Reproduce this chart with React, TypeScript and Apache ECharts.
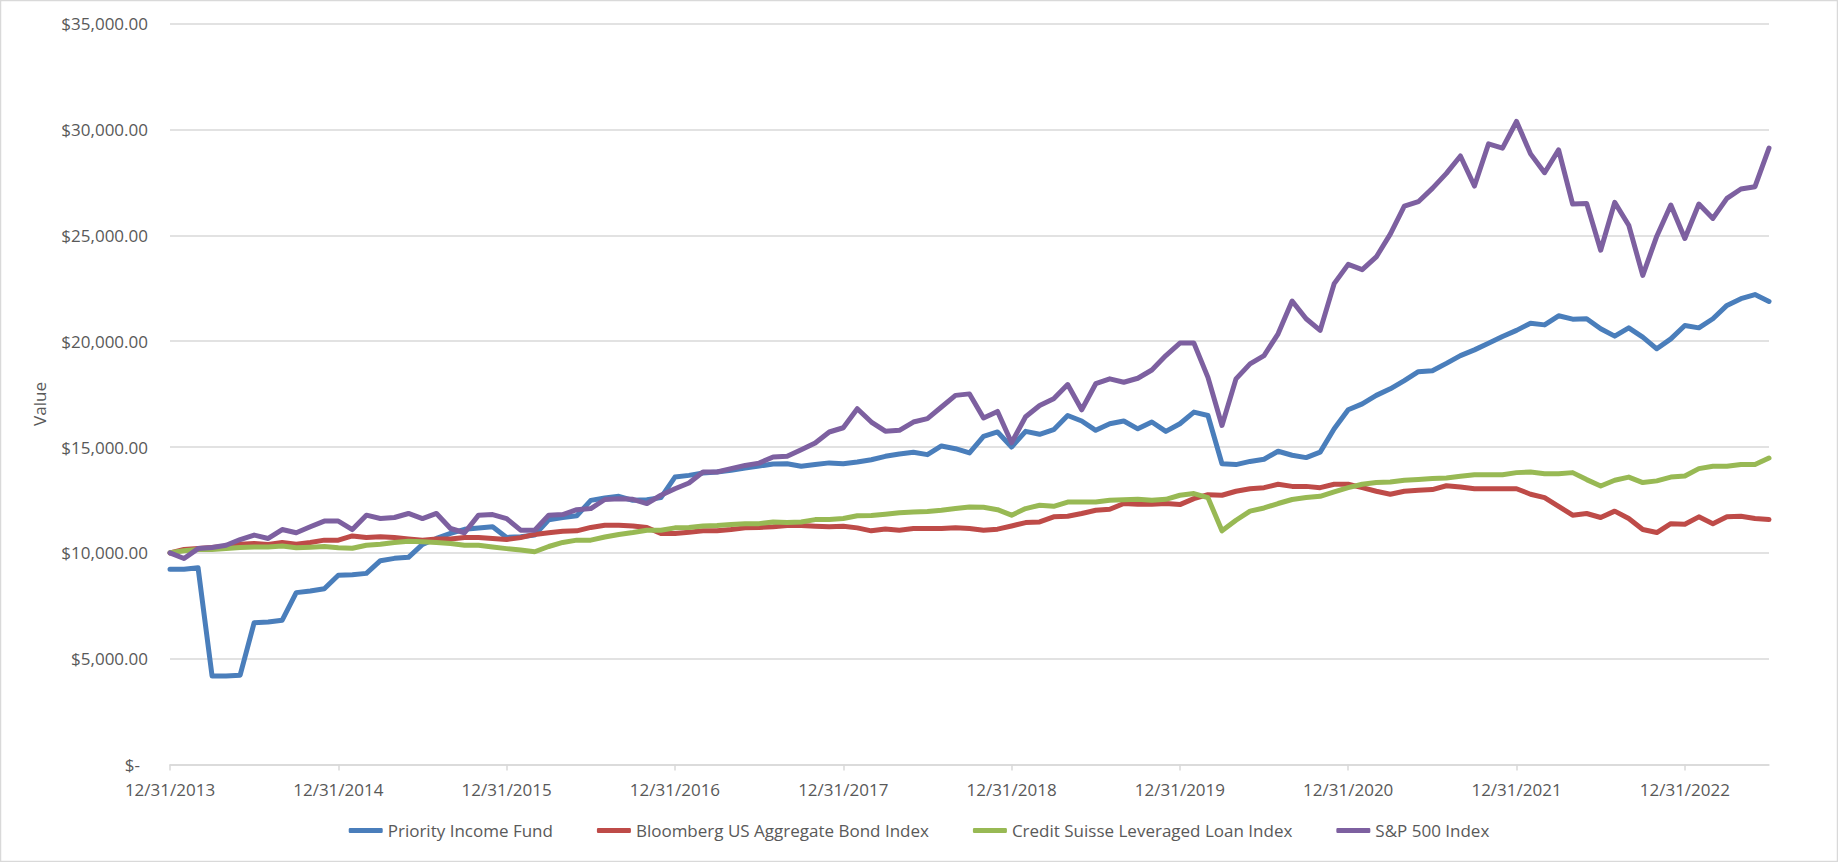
import React, { useEffect, useRef } from "react";
import * as echarts from "echarts";

const dates: string[] = [
  "12/31/2013",
  "1/31/2014", "2/28/2014", "3/31/2014", "4/30/2014", "5/31/2014", "6/30/2014", "7/31/2014", "8/31/2014", "9/30/2014", "10/31/2014", "11/30/2014", "12/31/2014",
  "1/31/2015", "2/28/2015", "3/31/2015", "4/30/2015", "5/31/2015", "6/30/2015", "7/31/2015", "8/31/2015", "9/30/2015", "10/31/2015", "11/30/2015", "12/31/2015",
  "1/31/2016", "2/29/2016", "3/31/2016", "4/30/2016", "5/31/2016", "6/30/2016", "7/31/2016", "8/31/2016", "9/30/2016", "10/31/2016", "11/30/2016", "12/31/2016",
  "1/31/2017", "2/28/2017", "3/31/2017", "4/30/2017", "5/31/2017", "6/30/2017", "7/31/2017", "8/31/2017", "9/30/2017", "10/31/2017", "11/30/2017", "12/31/2017",
  "1/31/2018", "2/28/2018", "3/31/2018", "4/30/2018", "5/31/2018", "6/30/2018", "7/31/2018", "8/31/2018", "9/30/2018", "10/31/2018", "11/30/2018", "12/31/2018",
  "1/31/2019", "2/28/2019", "3/31/2019", "4/30/2019", "5/31/2019", "6/30/2019", "7/31/2019", "8/31/2019", "9/30/2019", "10/31/2019", "11/30/2019", "12/31/2019",
  "1/31/2020", "2/29/2020", "3/31/2020", "4/30/2020", "5/31/2020", "6/30/2020", "7/31/2020", "8/31/2020", "9/30/2020", "10/31/2020", "11/30/2020", "12/31/2020",
  "1/31/2021", "2/28/2021", "3/31/2021", "4/30/2021", "5/31/2021", "6/30/2021", "7/31/2021", "8/31/2021", "9/30/2021", "10/31/2021", "11/30/2021", "12/31/2021",
  "1/31/2022", "2/28/2022", "3/31/2022", "4/30/2022", "5/31/2022", "6/30/2022", "7/31/2022", "8/31/2022", "9/30/2022", "10/31/2022", "11/30/2022", "12/31/2022",
  "1/31/2023", "2/28/2023", "3/31/2023", "4/30/2023", "5/31/2023", "6/30/2023",
];

const priorityIncomeFund: number[] = [
  9220,
  9220, 9300, 4180, 4180, 4220, 6700, 6730, 6820, 8120, 8200, 8300, 8940,
  8970, 9030, 9630, 9740, 9790, 10400, 10680, 10920, 11110, 11170, 11230, 10730,
  10760, 10840, 11560, 11670, 11750, 12480, 12590, 12670, 12480, 12510, 12610, 13580,
  13660, 13770, 13820, 13900, 14010, 14100, 14200, 14210, 14090, 14170, 14250, 14210,
  14290, 14400, 14560, 14670, 14750, 14640, 15050, 14920, 14720, 15500, 15710, 15000,
  15740, 15600, 15820, 16490, 16230, 15790, 16100, 16230, 15860, 16180, 15740, 16100,
  16650, 16490, 14210, 14170, 14320, 14420, 14800, 14610, 14500, 14760, 15860, 16760,
  17040, 17440, 17750, 18140, 18560, 18600, 18950, 19320, 19590, 19900, 20220, 20510,
  20850, 20770, 21200, 21040, 21060, 20590, 20240, 20630, 20190, 19640, 20110, 20740,
  20630, 21060, 21690, 22010, 22200, 21880,
];

const bloombergAggregate: number[] = [
  10000,
  10160, 10200, 10250, 10310, 10410, 10440, 10390, 10490, 10410, 10490, 10600, 10600,
  10800, 10720, 10760, 10720, 10660, 10600, 10650, 10650, 10720, 10720, 10680, 10630,
  10720, 10870, 10950, 11020, 11040, 11200, 11300, 11300, 11270, 11200, 10910, 10910,
  10970, 11040, 11040, 11100, 11180, 11200, 11230, 11290, 11290, 11260, 11230, 11260,
  11180, 11040, 11130, 11070, 11150, 11150, 11150, 11180, 11150, 11070, 11120, 11270,
  11430, 11460, 11700, 11730, 11860, 12010, 12060, 12330, 12300, 12300, 12330, 12280,
  12560, 12750, 12720, 12910, 13030, 13080, 13240, 13140, 13140, 13080, 13240, 13240,
  13080, 12910, 12770, 12910, 12960, 12990, 13170, 13110, 13030, 13030, 13030, 13030,
  12770, 12610, 12200, 11780, 11860, 11670, 11970, 11620, 11100, 10960, 11380, 11350,
  11700, 11380, 11700, 11730, 11620, 11570,
];

const creditSuisseLoan: number[] = [
  10000,
  10100, 10160, 10160, 10200, 10250, 10280, 10280, 10320, 10240, 10270, 10300, 10240,
  10220, 10360, 10410, 10490, 10550, 10520, 10490, 10440, 10360, 10360, 10280, 10200,
  10130, 10050, 10300, 10490, 10600, 10600, 10750, 10870, 10960, 11070, 11070, 11180,
  11200, 11270, 11290, 11340, 11380, 11380, 11460, 11430, 11460, 11570, 11570, 11620,
  11750, 11760, 11820, 11890, 11930, 11950, 12010, 12090, 12170, 12150, 12040, 11780,
  12090, 12250, 12200, 12400, 12400, 12400, 12480, 12510, 12530, 12480, 12530, 12720,
  12800, 12610, 11040, 11540, 11970, 12120, 12330, 12520, 12610, 12670, 12880, 13080,
  13240, 13320, 13350, 13430, 13470, 13510, 13540, 13620, 13690, 13690, 13690, 13790,
  13820, 13740, 13740, 13790, 13460, 13160, 13430, 13580, 13320, 13400, 13580, 13630,
  13980, 14090, 14090, 14170, 14170, 14480,
];

const sp500: number[] = [
  10000,
  9730, 10200, 10250, 10360, 10630, 10840, 10680, 11100, 10950, 11230, 11500, 11500,
  11100, 11780, 11620, 11670, 11860, 11620, 11860, 11150, 10950, 11780, 11810, 11620,
  11070, 11070, 11780, 11810, 12040, 12090, 12520, 12560, 12530, 12330, 12720, 13030,
  13300, 13820, 13820, 13980, 14130, 14240, 14530, 14560, 14870, 15190, 15710, 15910,
  16810, 16180, 15750, 15790, 16180, 16340, 16890, 17440, 17510, 16370, 16680, 15200,
  16430, 16960, 17280, 17950, 16760, 17990, 18220, 18060, 18250, 18640, 19320, 19910,
  19910, 18290, 16020, 18220, 18930, 19320, 20350, 21900, 21060, 20510, 22720, 23630,
  23380, 23980, 25060, 26380, 26590, 27220, 27930, 28750, 27330, 29320, 29120, 30380,
  28850, 27960, 29040, 26480, 26510, 24300, 26560, 25480, 23110, 24960, 26430, 24850,
  26480, 25800, 26750, 27190, 27300, 29120,
];

const seriesNames: string[] = [
  "Priority Income Fund",
  "Bloomberg US Aggregate Bond Index",
  "Credit Suisse Leveraged Loan Index",
  "S&P 500 Index",
];
const seriesColors: string[] = ["#4A7EBB", "#BE4B48", "#98B954", "#7D60A0"];

const FONT = "'Open Sans', 'Liberation Sans', sans-serif";
const TEXT_COLOR = "#595959";

function formatMoney(v: number): string {
  if (v === 0) return "{z|$-}";
  const s = String(Math.round(v)).replace(/\B(?=(\d{3})+(?!\d))/g, ",");
  return "$" + s + ".00";
}

export default function App() {
  const ref = useRef<HTMLDivElement>(null);

  useEffect(() => {
    document.body.style.margin = "0";
    if (!ref.current) return;
    const chart = echarts.init(ref.current, undefined, { renderer: "svg" });
    const allData = [priorityIncomeFund, bloombergAggregate, creditSuisseLoan, sp500];
    chart.setOption({
      animation: false,
      backgroundColor: "#ffffff",
      textStyle: { fontFamily: FONT },
      grid: { left: 170, right: 69, top: 23.7, bottom: 97.5, containLabel: false },
      legend: {
        data: seriesNames,
        top: 817,
        left: "center",
        icon: "roundRect",
        itemWidth: 34,
        itemHeight: 5,
        itemGap: 44,
        textStyle: { fontSize: 17, color: TEXT_COLOR, fontFamily: FONT },
      },
      xAxis: {
        type: "category",
        data: dates,
        boundaryGap: false,
        axisLine: { show: true, lineStyle: { color: "#D9D9D9", width: 1.5 } },
        axisTick: { show: true, interval: 11, length: 6, lineStyle: { color: "#D9D9D9", width: 1.5 } },
        axisLabel: {
          interval: 11,
          margin: 16,
          fontSize: 17,
          color: TEXT_COLOR,
          fontFamily: FONT,
        },
        splitLine: { show: false },
      },
      yAxis: {
        type: "value",
        min: 0,
        max: 35000,
        interval: 5000,
        axisLine: { show: false },
        axisTick: { show: false },
        axisLabel: {
          margin: 22,
          fontSize: 17,
          color: TEXT_COLOR,
          fontFamily: FONT,
          formatter: formatMoney,
          rich: { z: { fontSize: 17, color: TEXT_COLOR, fontFamily: FONT, padding: [0, 8, 0, 0] } },
        },
        splitLine: { show: true, lineStyle: { color: "#D9D9D9", width: 1.5 } },
      },
      series: seriesNames.map((name, i) => ({
        name,
        type: "line",
        data: allData[i],
        symbol: "none",
        showSymbol: false,
        color: seriesColors[i],
        lineStyle: { width: 5, color: seriesColors[i], cap: "round", join: "round" },
      })),
      graphic: [
        {
          type: "rect",
          shape: { x: 0.5, y: 0.5, width: 1837, height: 861 },
          style: { fill: "none", stroke: "#D9D9D9", lineWidth: 1.5 },
          silent: true,
        },
        {
          type: "text",
          x: 39,
          y: 404,
          rotation: Math.PI / 2,
          style: {
            text: "Value",
            fontSize: 17,
            fontFamily: FONT,
            fill: TEXT_COLOR,
            align: "center",
            verticalAlign: "middle",
          },
        },
      ],
    });
    return () => chart.dispose();
  }, []);

  return (
    <div
      ref={ref}
      style={{ position: "absolute", left: 0, top: 0, width: 1838, height: 862 }}
    />
  );
}
